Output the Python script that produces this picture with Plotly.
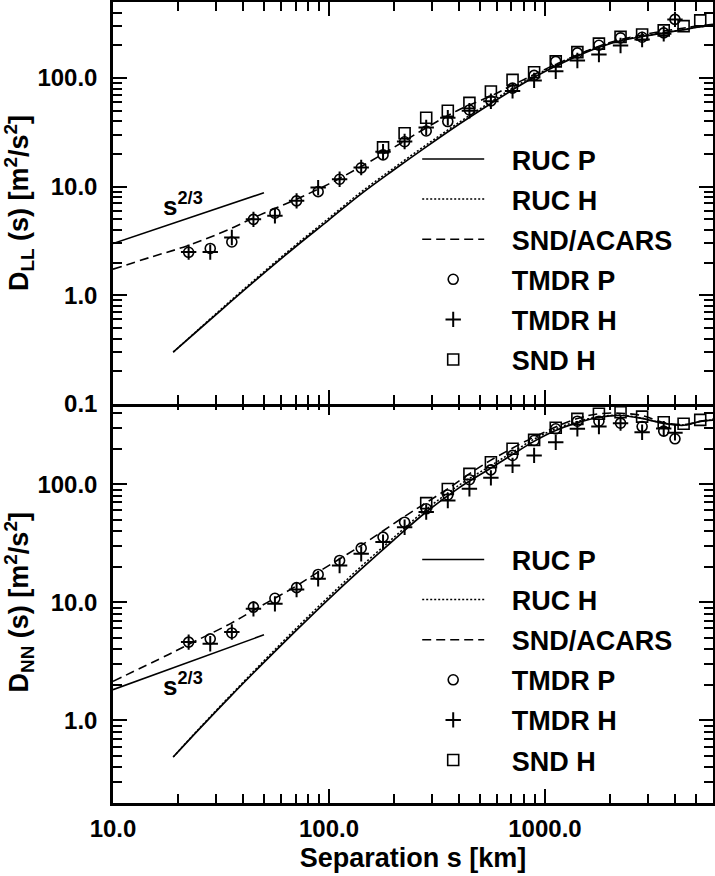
import numpy as np
import plotly.graph_objects as go

FONT = "Liberation Sans, Arial, sans-serif"

# ---- data ----
# separation bins (km) of the TMDR statistics
s_tmdr = [22.4, 28.2, 35.5, 44.7, 56.2, 70.8, 89.1, 112, 141, 178, 224, 282,
          355, 447, 562, 708, 891, 1122, 1413, 1778, 2239, 2818, 3548, 4000]

# longitudinal structure function D_LL
dll_tmdr_p = [2.49, 2.7, 3.1, 5.0, 5.7, 7.4, 9.0, 11.7, 14.9, 19.6, 25.9, 32.5,
              39.7, 50.8, 61.6, 80.6, 105.6, 142, 170, 200, 234, 237, 260, 346]
dll_tmdr_h = [2.5, 2.5, 3.4, 5.0, 5.4, 7.4, 9.8, 11.7, 15.0, 21, 26, 35,
              43, 50, 61, 76, 95, 115, 145, 164, 199, 226, 255, 346]
s_snd_ll = [178, 224, 282, 355, 447, 562, 708, 891, 1122, 1413, 1778, 2239,
            2818, 3548, 4385, 5237]
dll_snd_h = [23, 31, 43, 50, 59, 75, 96, 113, 142, 173, 207, 239,
             251, 274, 300, 339]

# transverse structure function D_NN
dnn_tmdr_p = [4.6, 4.9, 5.5, 9.1, 10.8, 13.3, 17.2, 22.6, 28.7, 35.6, 47.6, 61.8,
              81, 109, 132, 175, 234, 294, 341, 341, 328, 307, 281, 242]
dnn_tmdr_h = [4.6, 4.46, 5.6, 8.8, 9.7, 12.8, 15.8, 20.5, 25.7, 32.3, 43.2, 58,
              72.7, 91.3, 113, 144, 175, 226, 294, 307, 328, 275, 295, 272]
s_snd_nn = [282, 355, 447, 562, 708, 891, 1122, 1413, 1778, 2239, 2818, 3548,
            4385, 5237]
dnn_snd_h = [69, 91, 122, 153, 199, 237, 300, 357, 394, 406, 373, 334, 324, 350]

# RUC model curves
s_ruc_ll = [19, 25, 35, 50, 70, 100, 140, 200, 280, 400, 560, 800, 1100, 1400,
            1800, 2240, 2800, 3500, 4400, 5200, 6000]
dll_ruc_p = [0.30, 0.485, 0.87, 1.6, 2.8, 4.95, 8.5, 14.3, 23, 37.5, 58, 90, 126,
             158, 193, 220, 240, 258, 278, 295, 305]
dll_ruc_h = [0.30, 0.49, 0.89, 1.65, 2.9, 5.15, 8.85, 14.9, 24, 39, 60, 93, 129,
             161, 196, 223, 242, 260, 279, 296, 306]
s_ruc_nn = [19, 25, 35, 50, 70, 100, 140, 200, 280, 400, 560, 700, 890, 1100,
            1400, 1800, 2240, 2800, 3500, 4400, 5200, 6000]
dnn_ruc_p = [0.49, 0.84, 1.6, 3.1, 5.7, 10.7, 18.9, 33.8, 57.5, 93, 136, 176, 230,
             280, 330, 368, 381, 360, 328, 315, 338, 348]
dnn_ruc_h = [0.49, 0.85, 1.63, 3.2, 5.95, 11.2, 19.9, 35.5, 60.5, 98, 143, 184,
             240, 290, 338, 372, 384, 362, 330, 317, 339, 349]

# SND/ACARS curves
s_sa_ll = [10, 15, 22, 35, 45, 70, 100, 140, 200, 280, 400, 560, 700, 1000,
           1400, 2000, 3000, 4500, 6000]
dll_sa = [1.74, 2.25, 2.85, 4.1, 5.2, 7.6, 10.6, 15.2, 23, 34.5, 51, 68, 85, 120,
          162, 212, 255, 290, 312]
s_sa_nn = [10, 18, 22.4, 35, 45, 56, 70, 89, 140, 223, 283, 357, 446, 557, 890,
           1400, 1780, 2240, 2800, 3500, 4400, 5200, 6000]
dnn_sa = [2.14, 3.6, 4.4, 6.6, 8.6, 10.8, 13.6, 18, 30, 53, 70, 92, 122, 158,
          250, 357, 394, 398, 381, 334, 319, 340, 355]

# s^(2/3) reference lines
s_ref = [10, 50]
dll_ref = [3.0, 8.8]
dnn_ref = [1.82, 5.3]

fig = go.Figure()
PAD = "&nbsp;&nbsp;&nbsp;"


def add_panel(xa, ya, leg, s_ruc, ruc_p, ruc_h, s_sa, sa, tp, th, s_snd, snd, ref):
    common = dict(xaxis=xa, yaxis=ya, legend=leg)
    fig.add_trace(go.Scatter(x=s_ref, y=ref, mode="lines", showlegend=False,
                             line=dict(color="black", width=1.6), **common))
    fig.add_trace(go.Scatter(x=s_ruc, y=ruc_p, mode="lines", name=PAD + "RUC P",
                             legendgroup=leg + "a", line_shape="spline",
                             line=dict(color="black", width=1.7), **common))
    fig.add_trace(go.Scatter(x=s_ruc, y=ruc_h, mode="lines", name=PAD + "RUC H",
                             legendgroup=leg + "b", line_shape="spline",
                             line=dict(color="black", width=1.5, dash="2px,2px"),
                             **common))
    fig.add_trace(go.Scatter(x=s_sa, y=sa, mode="lines", name=PAD + "SND/ACARS",
                             legendgroup=leg + "c", line_shape="spline",
                             line=dict(color="black", width=1.6, dash="9px,5px"),
                             **common))
    fig.add_trace(go.Scatter(x=s_tmdr, y=tp, mode="markers", name=PAD + "TMDR P",
                             legendgroup=leg + "d",
                             marker=dict(symbol="circle-open", size=10,
                                         color="black", line=dict(width=1.6)),
                             **common))
    fig.add_trace(go.Scatter(x=s_tmdr, y=th, mode="markers", name=PAD + "TMDR H",
                             legendgroup=leg + "e",
                             marker=dict(symbol="cross-thin-open", size=11,
                                         color="black", line=dict(width=2)),
                             **common))
    fig.add_trace(go.Scatter(x=s_snd, y=snd, mode="markers", name=PAD + "SND H",
                             legendgroup=leg + "f",
                             marker=dict(symbol="square-open", size=11,
                                         color="black", line=dict(width=1.6)),
                             **common))


add_panel("x2", "y2", "legend", s_ruc_ll, dll_ruc_p, dll_ruc_h, s_sa_ll, dll_sa,
          dll_tmdr_p, dll_tmdr_h, s_snd_ll, dll_snd_h, dll_ref)
add_panel("x", "y", "legend2", s_ruc_nn, dnn_ruc_p, dnn_ruc_h, s_sa_nn, dnn_sa,
          dnn_tmdr_p, dnn_tmdr_h, s_snd_nn, dnn_snd_h, dnn_ref)


def minor_vals(lo, hi):
    vals = []
    for e in range(lo, hi + 1):
        for m in range(2, 10):
            vals.append(m * 10.0 ** e)
    return vals


tickfont = dict(family=FONT, size=24, color="black", weight="bold")
titlefont = dict(family=FONT, size=27, color="black", weight="bold")


def axis(**kw):
    a = dict(type="log", showline=True, linecolor="black", linewidth=2.5,
             mirror="allticks", ticks="inside", ticklen=14, tickwidth=2,
             tickcolor="black", showgrid=False, zeroline=False,
             tickfont=tickfont,
             minor=dict(ticks="inside", ticklen=9, tickwidth=1.5,
                        tickcolor="black", showgrid=False))
    a.update(kw)
    return a


xrange = [1, np.log10(6000)]
split = 0.5012

fig.update_layout(
    width=715, height=876,
    paper_bgcolor="white", plot_bgcolor="white",
    margin=dict(l=113, r=2, t=2, b=73, autoexpand=False),
    xaxis=axis(range=xrange, tickvals=[10, 100, 1000],
               ticktext=["10.0", "100.0", "1000.0"], ticklabelstandoff=2,
               minor_tickvals=minor_vals(1, 3), anchor="y",
               title=dict(text="Separation s [km]", font=titlefont, standoff=8)),
    xaxis2=axis(range=xrange, matches="x", showticklabels=False,
                tickvals=[10, 100, 1000], minor_tickvals=minor_vals(1, 3),
                anchor="y2"),
    yaxis=axis(range=[np.log10(0.2), np.log10(500)], domain=[0, split],
               tickvals=[1, 10, 100], ticktext=["1.0", "10.0", "100.0"],
               minor_tickvals=minor_vals(-1, 2), ticklabelstandoff=8,
               anchor="x",
               title=dict(text="D<sub>NN</sub> (s) [m<sup>2</sup>/s<sup>2</sup>]",
                          font=titlefont, standoff=2)),
    yaxis2=axis(range=[-1, np.log10(500)], domain=[split - 0.0031, 1],
                tickvals=[0.1, 1, 10, 100],
                ticktext=["0.1", "1.0", "10.0", "100.0"],
                minor_tickvals=minor_vals(-1, 2), ticklabelstandoff=8,
                anchor="x2",
                title=dict(text="D<sub>LL</sub> (s) [m<sup>2</sup>/s<sup>2</sup>]",
                           font=titlefont, standoff=2)),
    legend=dict(x=0.507, y=0.834, xanchor="left", yanchor="top",
                bgcolor="rgba(0,0,0,0)", font=titlefont, itemwidth=62,
                tracegroupgap=2),
    legend2=dict(x=0.507, y=0.334, xanchor="left", yanchor="top",
                 bgcolor="rgba(0,0,0,0)", font=titlefont, itemwidth=62,
                 tracegroupgap=2),
    annotations=[
        dict(x=np.log10(21), y=np.log10(6.9), xref="x2", yref="y2",
             text="s<sup>2/3</sup>", showarrow=False,
             font=dict(family=FONT, size=26, color="black", weight="bold")),
        dict(x=np.log10(21), y=np.log10(2.0), xref="x", yref="y",
             text="s<sup>2/3</sup>", showarrow=False,
             font=dict(family=FONT, size=26, color="black", weight="bold")),
    ],
)

# drop the browser's default page margin so the figure sits at the corner
fig.write_html("out.html", config={"displayModeBar": False},
               post_script="document.body.style.margin='0';")
